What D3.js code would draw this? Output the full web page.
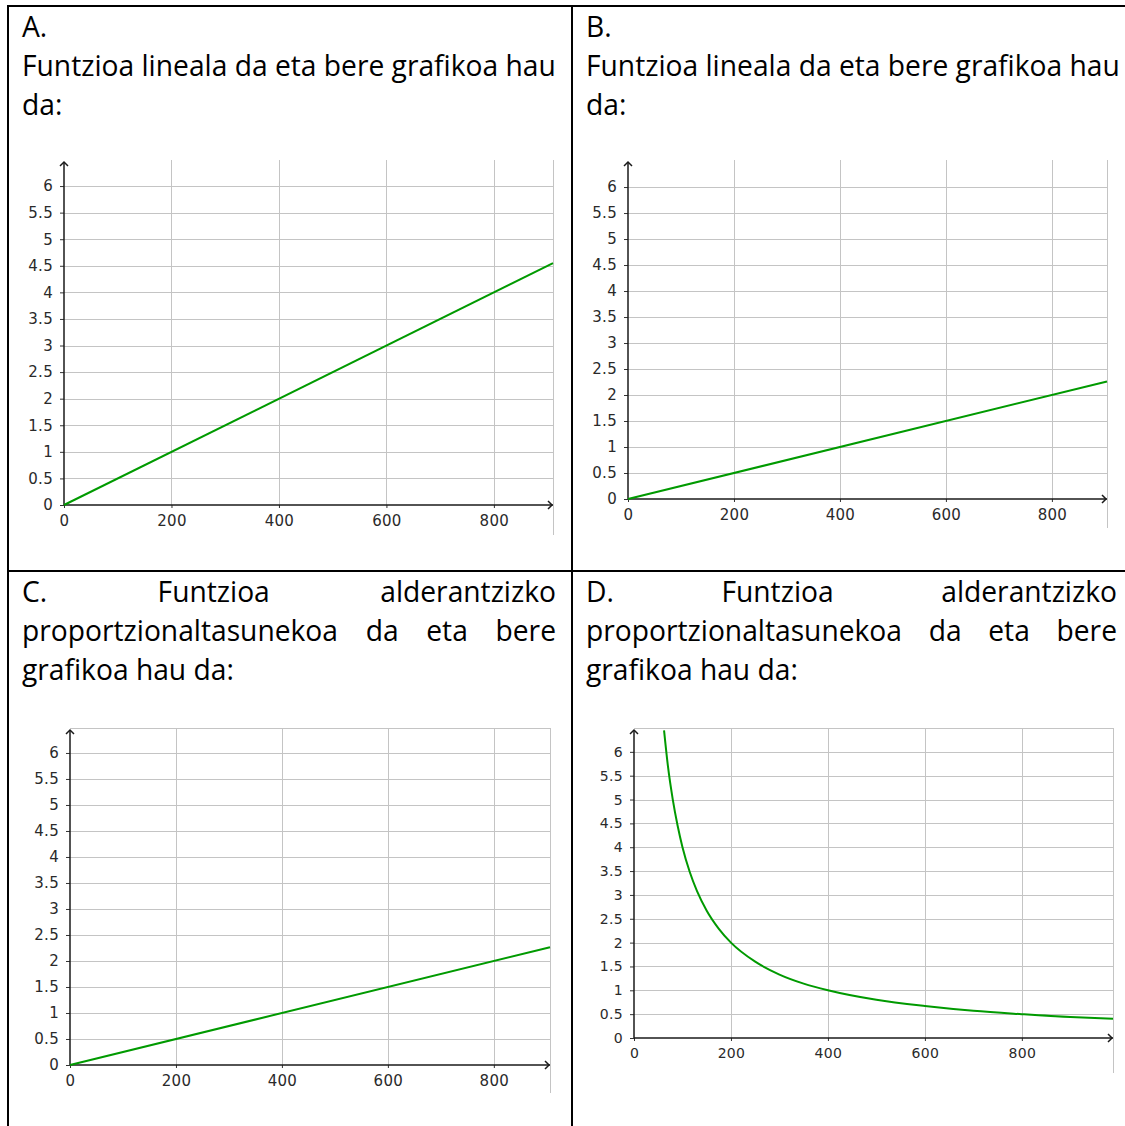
<!DOCTYPE html>
<html>
<head>
<meta charset="utf-8">
<script src="https://cdn.jsdelivr.net/npm/d3@7"></script>
<style>
  body { margin: 0; background: #fff; }
  svg { display: block; }
</style>
</head>
<body>
<div id="graph"></div>
<script>
var w = 1125;
var h = 1126;

// tick values shared by the four graphs
var xTicks = [0, 200, 400, 600, 800];
var yTicks = [0, 0.5, 1, 1.5, 2, 2.5, 3, 3.5, 4, 4.5, 5, 5.5, 6];

// visible range of each graph
var xMaxA = 910, yMaxA = 6.49;
var xMaxB = 904, yMaxB = 6.52;
var xMaxC = 906, yMaxC = 6.48;
var xMaxD = 988, yMaxD = 6.5;

// green curves
var lineA = [[0, 0], [910, 4.55]];
var lineB = [[0, 0], [904, 2.26]];
var lineC = [[0, 0], [906, 2.265]];
var curveD = [[62, 6.45], [70, 5.7], [80, 5], [90, 4.45], [100, 4], [115, 3.48], [130, 3.08],
    [150, 2.67], [175, 2.29], [200, 2], [250, 1.6], [300, 1.33], [350, 1.14], [400, 1],
    [500, 0.8], [600, 0.67], [700, 0.57], [800, 0.5], [900, 0.44], [988, 0.405]];

// cell texts, one array per line (justify = spread words over the cell width)
var textA = [["A."], ["Funtzioa lineala da eta bere grafikoa hau"], ["da:"]];
var textB = [["B."], ["Funtzioa lineala da eta bere grafikoa hau"], ["da:"]];
var textC = [["C. Funtzioa alderantzizko", true], ["proportzionaltasunekoa da eta bere", true], ["grafikoa hau da:"]];
var textD = [["D. Funtzioa alderantzizko", true], ["proportzionaltasunekoa da eta bere", true], ["grafikoa hau da:"]];

var svg = d3.select("#graph")
    .append("svg")
    .attr("width", w)
    .attr("height", h);

// table borders
var border = svg.append("g")
    .attr("stroke", "#000")
    .attr("stroke-width", 2);
border.append("line").attr("x1", 8).attr("x2", 8).attr("y1", 5).attr("y2", h);
border.append("line").attr("x1", 572).attr("x2", 572).attr("y1", 5).attr("y2", h);
border.append("line").attr("x1", 7).attr("x2", w).attr("y1", 6).attr("y2", 6);
border.append("line").attr("x1", 7).attr("x2", w).attr("y1", 571).attr("y2", 571);

// fit the font so the long line is as wide as in the cell
var fontFamily = "'Open Sans', sans-serif";
var probe = svg.append("text")
    .attr("font-family", fontFamily)
    .attr("font-size", 24)
    .text(textA[1][0]);
var fontSize = 24 * 534 / probe.node().getComputedTextLength();
probe.remove();

function drawText(lines, x0, x1, y0) {
    var g = svg.append("g")
        .attr("font-family", fontFamily)
        .attr("font-size", fontSize)
        .attr("fill", "#000");
    lines.forEach(function (ln, i) {
        var y = y0 + i * 39;
        if (!ln[1]) {
            g.append("text").attr("x", x0).attr("y", y).text(ln[0]);
            return;
        }
        var words = ln[0].split(" ");
        var nodes = words.map(function (wd) {
            return g.append("text").attr("y", y).text(wd);
        });
        var widths = nodes.map(function (n) { return n.node().getComputedTextLength(); });
        var gap = (x1 - x0 - d3.sum(widths)) / (words.length - 1);
        var x = x0;
        nodes.forEach(function (n, j) {
            n.attr("x", x);
            x += widths[j] + gap;
        });
    });
}

drawText(textA, 22, 556, 37);
drawText(textB, 586, 1117, 37);
drawText(textC, 22, 556, 602);
drawText(textD, 586, 1117, 602);

function drawGraph(cfg) {
    var xScale = d3.scaleLinear().domain([0, cfg.xMax]).range([cfg.left, cfg.right]);
    var yScale = d3.scaleLinear().domain([0, cfg.yMax]).range([cfg.bottom, cfg.top]);
    var g = svg.append("g");

    // grid
    var grid = g.append("g").attr("stroke", "#c4c4c4").attr("stroke-width", 1);
    grid.selectAll(".gy")
        .data(yTicks.filter(function (d) { return d > 0; }))
        .enter().append("line")
        .attr("x1", cfg.left).attr("x2", cfg.right)
        .attr("y1", function (d) { return Math.round(yScale(d)) + 0.5; })
        .attr("y2", function (d) { return Math.round(yScale(d)) + 0.5; });
    grid.selectAll(".gx")
        .data(xTicks.filter(function (d) { return d > 0; }))
        .enter().append("line")
        .attr("x1", function (d) { return Math.round(xScale(d)) + 0.5; })
        .attr("x2", function (d) { return Math.round(xScale(d)) + 0.5; })
        .attr("y1", cfg.top).attr("y2", cfg.bottom);
    if (cfg.topLine) {
        grid.append("line")
            .attr("x1", cfg.left).attr("x2", cfg.right)
            .attr("y1", cfg.top + 0.5).attr("y2", cfg.top + 0.5);
    }
    grid.append("line")
        .attr("x1", cfg.right + 0.5).attr("x2", cfg.right + 0.5)
        .attr("y1", cfg.top).attr("y2", cfg.bottom + cfg.tail);

    // axes
    var yAxis = d3.axisLeft(yScale)
        .tickValues(yTicks)
        .tickSize(4)
        .tickPadding(7)
        .tickFormat(d3.format("~g"));
    var xAxis = d3.axisBottom(xScale)
        .tickValues(xTicks)
        .tickSize(3)
        .tickPadding(7)
        .tickFormat(d3.format("~g"));

    var ya = g.append("g")
        .attr("transform", "translate(" + cfg.left + ",0)")
        .call(yAxis);
    var xa = g.append("g")
        .attr("transform", "translate(0," + cfg.bottom + ")")
        .call(xAxis);
    [ya, xa].forEach(function (a) {
        a.select(".domain").remove();
        a.selectAll("line").attr("stroke", "#333");
        a.selectAll("text")
            .attr("fill", "#2a2a2a")
            .attr("font-family", "'DejaVu Sans', sans-serif")
            .attr("font-size", cfg.labelSize)
            .attr("letter-spacing", 0.3);
    });

    // axis lines with open arrow heads
    var ax = g.append("g")
        .attr("stroke", "#1a1a1a")
        .attr("stroke-width", 1.5)
        .attr("fill", "none");
    ax.append("line")
        .attr("x1", cfg.left).attr("x2", cfg.left)
        .attr("y1", cfg.bottom).attr("y2", cfg.top + 2);
    ax.append("path")
        .attr("d", "M" + (cfg.left - 4) + "," + (cfg.top + 6) + "L" + cfg.left + "," + (cfg.top + 2) +
            "L" + (cfg.left + 4) + "," + (cfg.top + 6));
    ax.append("line")
        .attr("x1", cfg.left).attr("x2", cfg.right)
        .attr("y1", cfg.bottom).attr("y2", cfg.bottom);
    ax.append("path")
        .attr("d", "M" + (cfg.right - 5) + "," + (cfg.bottom - 4) + "L" + (cfg.right - 1) + "," + cfg.bottom +
            "L" + (cfg.right - 5) + "," + (cfg.bottom + 4));

    // the function
    var line = d3.line()
        .x(function (d) { return xScale(d[0]); })
        .y(function (d) { return yScale(d[1]); })
        .curve(d3.curveMonotoneX);
    g.append("path")
        .datum(cfg.data)
        .attr("d", line)
        .attr("fill", "none")
        .attr("stroke", "#009a00")
        .attr("stroke-width", 2);
}

drawGraph({ left: 64, right: 553, top: 160, bottom: 505, xMax: xMaxA, yMax: yMaxA, data: lineA, tail: 30, topLine: false, labelSize: 15 });
drawGraph({ left: 628, right: 1107, top: 160, bottom: 499, xMax: xMaxB, yMax: yMaxB, data: lineB, tail: 29, topLine: false, labelSize: 15 });
drawGraph({ left: 70, right: 550, top: 728, bottom: 1065, xMax: xMaxC, yMax: yMaxC, data: lineC, tail: 28, topLine: true, labelSize: 15 });
drawGraph({ left: 634, right: 1113, top: 728, bottom: 1038, xMax: xMaxD, yMax: yMaxD, data: curveD, tail: 35, topLine: true, labelSize: 14 });
</script>
</body>
</html>
